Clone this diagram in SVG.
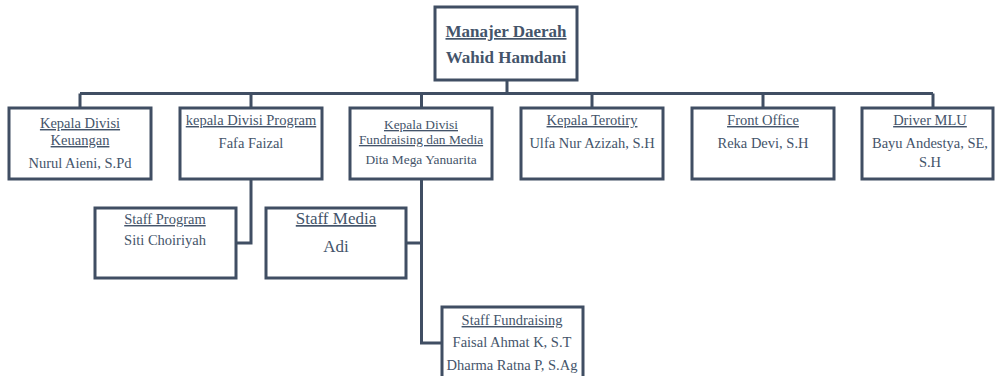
<svg xmlns="http://www.w3.org/2000/svg" width="996" height="376" viewBox="0 0 996 376">
<style>
.box{fill:#fff;stroke:#404e63;stroke-width:3}
.ln{fill:none;stroke:#404e63;stroke-width:3}
text{font-family:"Liberation Serif","Times New Roman",serif;fill:#44546a;text-anchor:middle;font-size:14.5px}
.u{text-decoration:underline}
.b{font-weight:bold;font-size:17px}
.s{font-size:13.4px}
.l{font-size:17px}
</style>
<rect width="996" height="376" fill="#fff"/>
<g id="connectors">
<path class="ln" d="M507 80V93.5M80 93.5H933M80 93.5V108M251 93.5V108M421.5 93.5V108M592 93.5V108M763 93.5V108M933 93.5V108"/>
<path class="ln" d="M251 179V243H236"/>
<path class="ln" d="M421.5 179V343H442M406 243H421.5"/>
</g>
<g id="manajer">
<rect class="box" x="435" y="7" width="142" height="73"/>
<text class="b u" x="506" y="37">Manajer Daerah</text>
<text class="b" x="506" y="63">Wahid Hamdani</text>
</g>
<g id="keuangan">
<rect class="box" x="9" y="108" width="142" height="71"/>
<text class="u" x="80" y="128">Kepala Divisi</text>
<text class="u" x="80" y="145">Keuangan</text>
<text x="80" y="168">Nurul Aieni, S.Pd</text>
</g>
<g id="program">
<rect class="box" x="180" y="108" width="142" height="71"/>
<text class="u" x="251" y="125">kepala Divisi Program</text>
<text x="251" y="148">Fafa Faizal</text>
</g>
<g id="fundraising">
<rect class="box" x="350" y="108" width="142" height="71"/>
<text class="s u" x="421" y="129">Kepala Divisi</text>
<text class="s u" x="421" y="144">Fundraising dan Media</text>
<text class="s" x="421" y="164">Dita Mega Yanuarita</text>
</g>
<g id="terotiry">
<rect class="box" x="521" y="108" width="142" height="71"/>
<text class="u" x="592" y="125">Kepala Terotiry</text>
<text x="592" y="148">Ulfa Nur Azizah, S.H</text>
</g>
<g id="frontoffice">
<rect class="box" x="692" y="108" width="142" height="71"/>
<text class="u" x="763" y="125">Front Office</text>
<text x="763" y="148">Reka Devi, S.H</text>
</g>
<g id="driver">
<rect class="box" x="862" y="108" width="131" height="71"/>
<text class="u" x="930" y="125">Driver MLU</text>
<text x="930" y="148">Bayu Andestya, SE,</text>
<text x="930" y="167">S.H</text>
</g>
<g id="staffprogram">
<rect class="box" x="95" y="208" width="141" height="70"/>
<text class="u" x="165" y="224">Staff Program</text>
<text x="165" y="245">Siti Choiriyah</text>
</g>
<g id="staffmedia">
<rect class="box" x="266" y="208" width="140" height="70"/>
<text class="l u" x="336" y="224">Staff Media</text>
<text class="l" x="336" y="252">Adi</text>
</g>
<g id="stafffundraising">
<rect class="box" x="442" y="307" width="141" height="75"/>
<text class="u" x="512" y="325">Staff Fundraising</text>
<text x="512" y="347">Faisal Ahmat K, S.T</text>
<text x="512" y="370">Dharma Ratna P, S.Ag</text>
</g>
</svg>
